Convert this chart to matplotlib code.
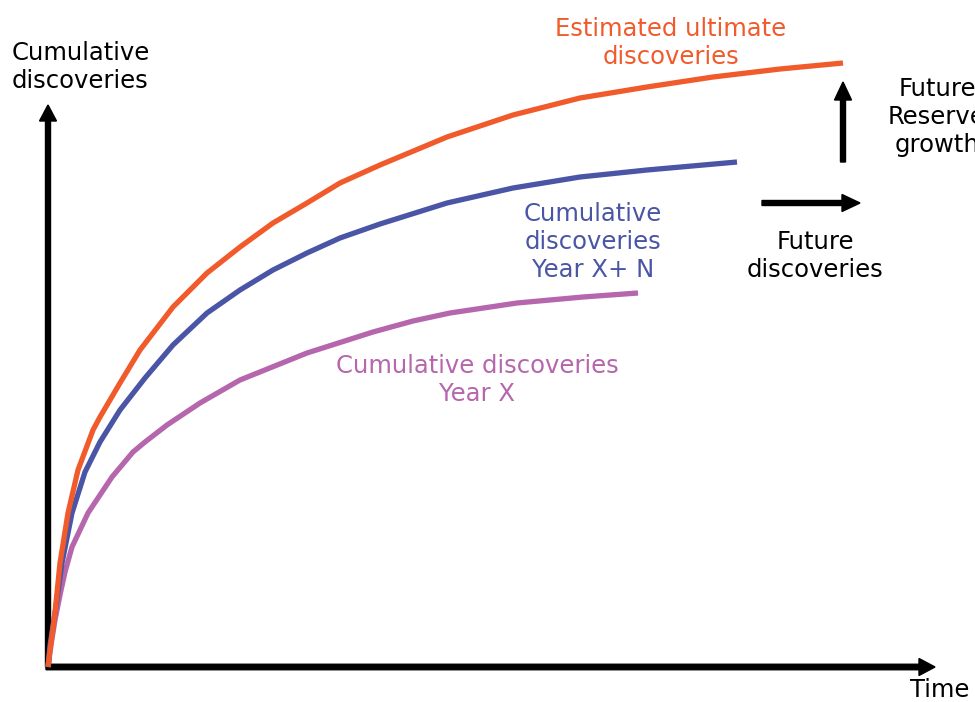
import matplotlib.pyplot as plt

# curves (time, cumulative discoveries), arbitrary units
t_ultimate = [0, 2, 7, 12, 20, 30, 45, 52, 72, 92, 125, 159, 192, 225, 259, 292, 332, 399, 465, 532, 599, 665, 732, 795]
v_ultimate = [0, 17, 54, 104, 154, 197, 237, 250, 284, 317, 360, 394, 420, 444, 464, 484, 502, 530, 552, 569, 580, 590, 598, 604]

t_yearN = [0, 2, 7, 14, 24, 37, 52, 72, 97, 125, 159, 192, 225, 259, 292, 332, 399, 465, 532, 599, 689]
v_yearN = [0, 22, 54, 104, 154, 195, 225, 257, 289, 322, 354, 377, 397, 414, 429, 443, 464, 479, 490, 497, 505]

t_yearX = [0, 3, 7, 12, 17, 24, 40, 64, 85, 97, 119, 152, 192, 259, 325, 365, 402, 469, 535, 590]
v_yearX = [0, 22, 47, 72, 95, 120, 154, 190, 215, 225, 242, 264, 287, 314, 335, 346, 354, 364, 370, 374]

orange = '#F15A2B'
blue = '#4A55A5'
purple = '#B566AC'

fig = plt.figure(figsize=(9.75, 7.02), dpi=100)
ax = fig.add_axes([0, 0, 1, 1])
ax.set_xlim(-48, 927)
ax.set_ylim(-35, 667)
ax.axis('off')

for t, v, c in [(t_yearX, v_yearX, purple), (t_yearN, v_yearN, blue), (t_ultimate, v_ultimate, orange)]:
    ax.plot(t, v, color=c, lw=3.8, solid_joinstyle='round', solid_capstyle='butt')

# axes with arrows
ax.arrow(0, 0, 0, 562, width=5, head_width=17, head_length=16, length_includes_head=True, color='k')
ax.arrow(-2, 0, 889, 0, width=5.5, head_width=17, head_length=16, length_includes_head=True, color='k')
# future discoveries / reserve growth arrows
ax.arrow(714, 464, 98, 0, width=5, head_width=17, head_length=18, length_includes_head=True, color='k')
ax.arrow(795, 505, 0, 80, width=5, head_width=17, head_length=18, length_includes_head=True, color='k')

fs = 17.5
ax.text(-36, 600, 'Cumulative\ndiscoveries', fontsize=fs, ha='left', va='center')
ax.text(623, 624, 'Estimated ultimate\ndiscoveries', fontsize=fs, color=orange, ha='center', va='center')
ax.text(889, 550, 'Future\nReserve\ngrowth', fontsize=fs, ha='center', va='center')
ax.text(767, 411, 'Future\ndiscoveries', fontsize=fs, ha='center', va='center')
ax.text(545, 425, 'Cumulative\ndiscoveries\nYear X+ N', fontsize=fs, color=blue, ha='center', va='center')
ax.text(429, 287, 'Cumulative discoveries\nYear X', fontsize=fs, color=purple, ha='center', va='center')
ax.text(892, -23, 'Time', fontsize=fs, ha='center', va='center')

fig.savefig('out.png', dpi=100)
